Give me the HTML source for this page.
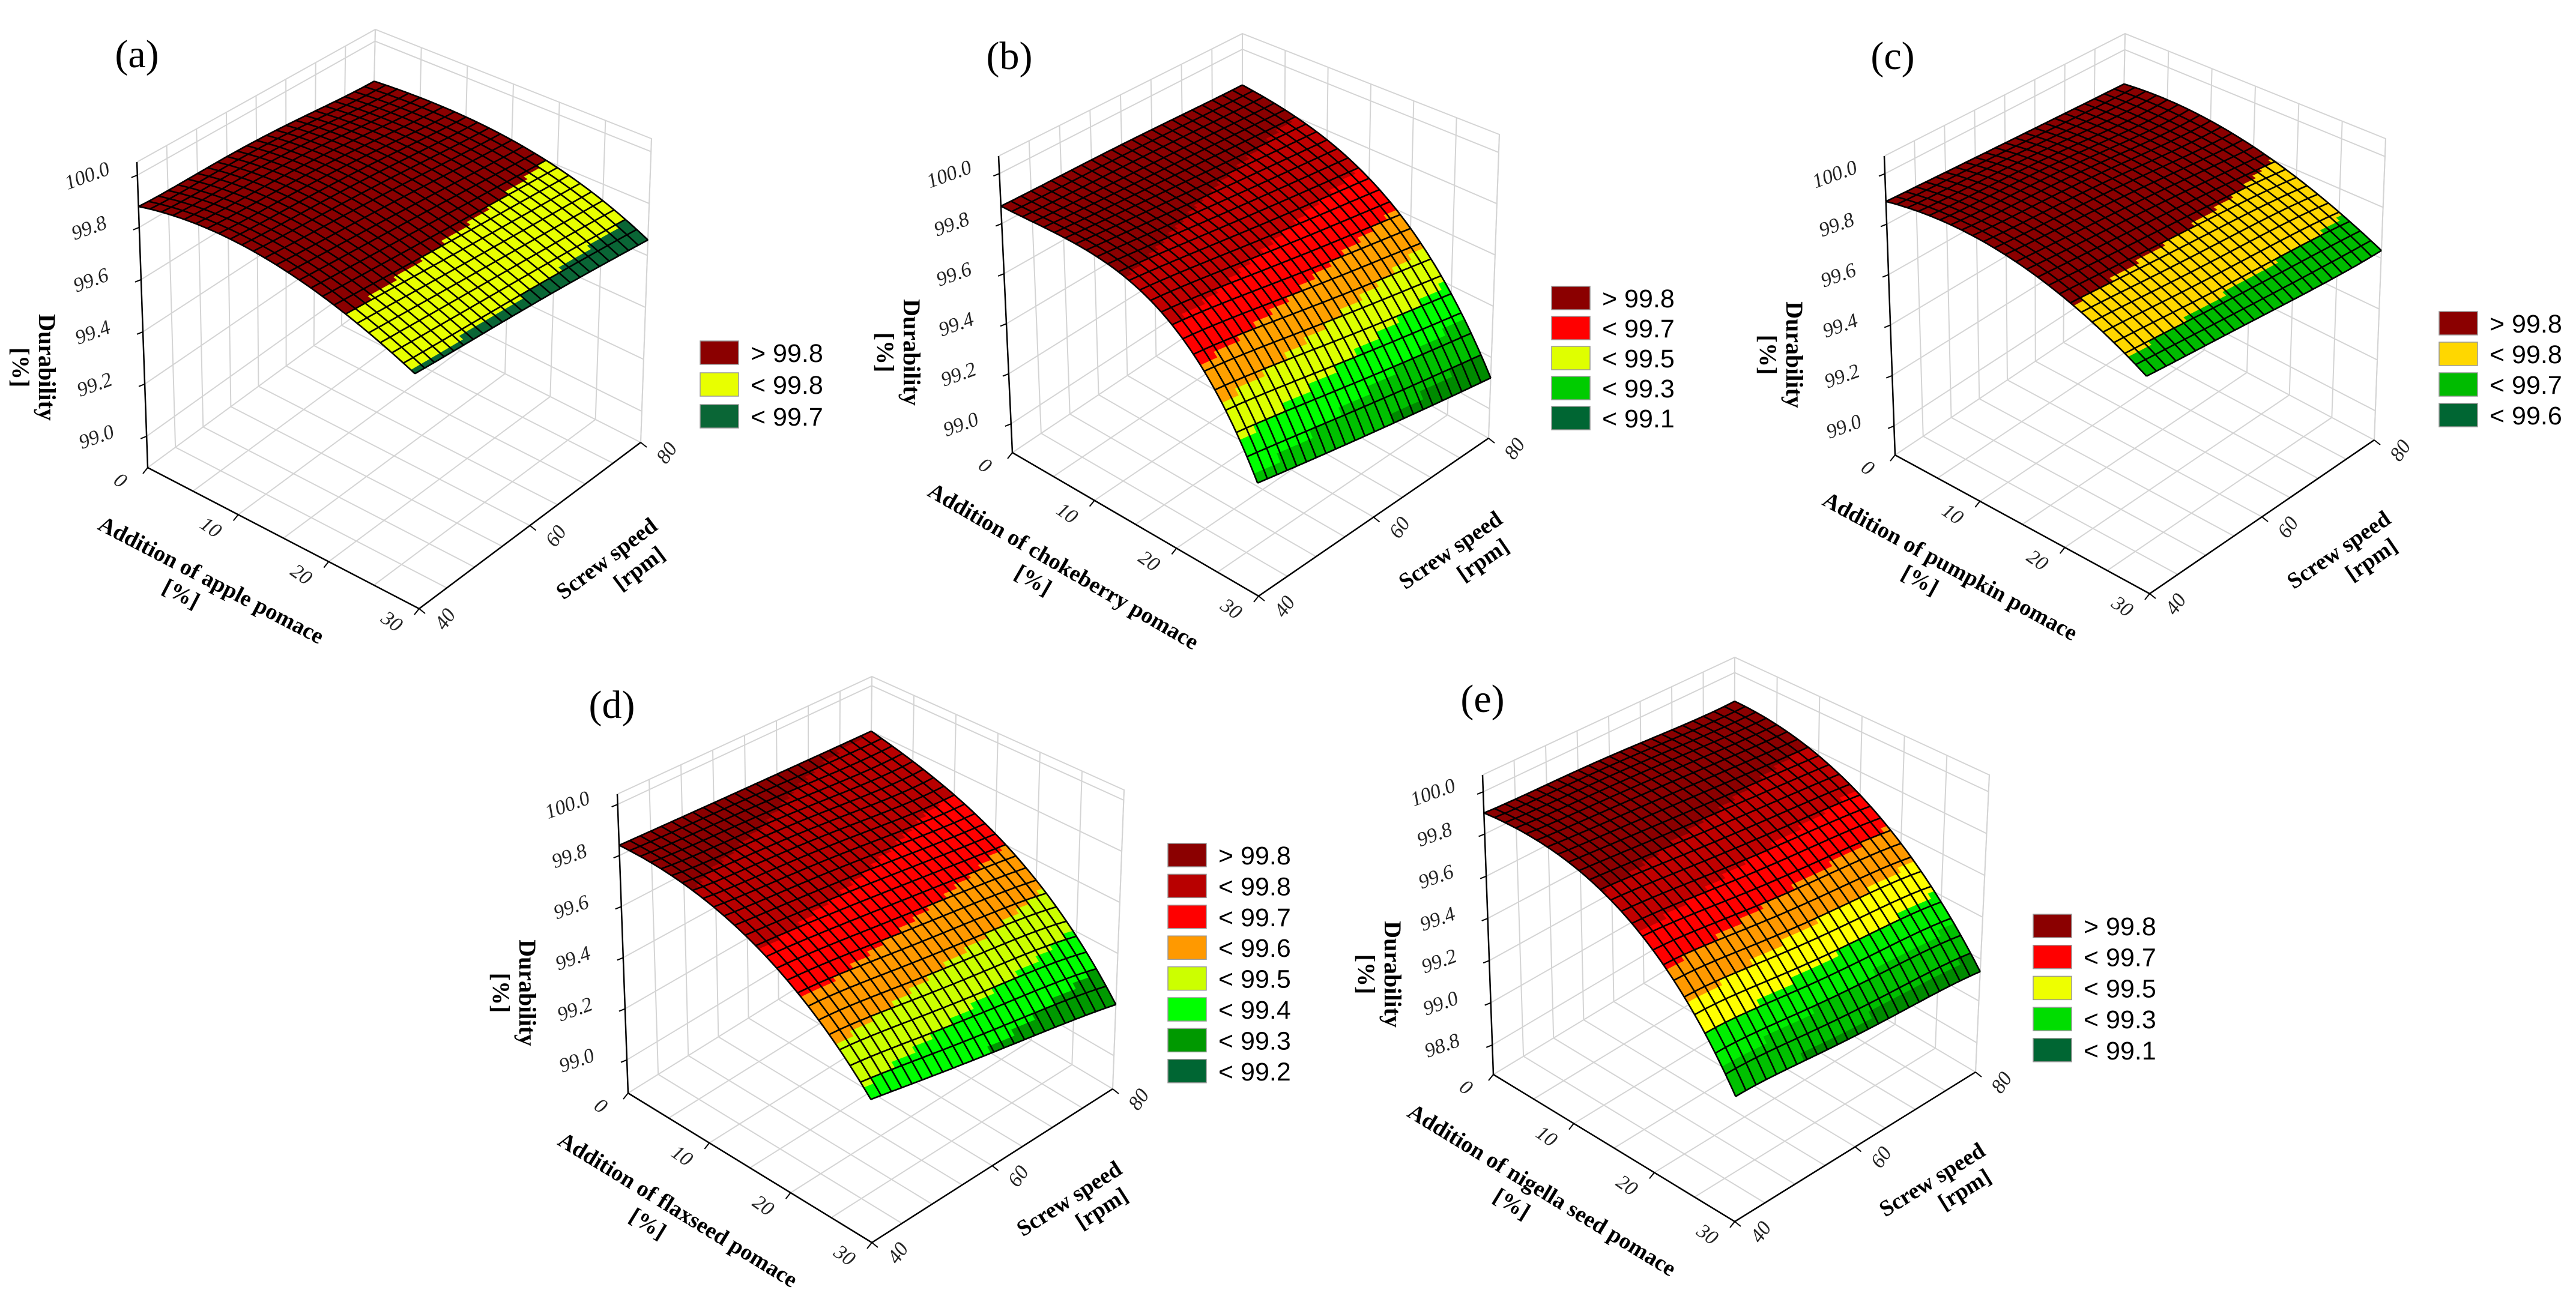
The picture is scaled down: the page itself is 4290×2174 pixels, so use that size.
<!DOCTYPE html>
<html>
<head>
<meta charset="utf-8">
<style>
html,body{margin:0;padding:0;background:#fff;}
svg{display:block;}
</style>
</head>
<body>
<svg id="fig" xmlns="http://www.w3.org/2000/svg" width="4290" height="2174" viewBox="0 0 4290 2174">
<rect x="0" y="0" width="4290" height="2174" fill="#ffffff"/>
</svg>
<script>
// ---- data ----
const addLevels = [0, 10, 20, 30];
const speedLevels = [40, 50, 60, 70, 80];
const addTickLabels = ["0", "10", "20", "30"];
const speedTickLabels = ["40", "60", "80"];
const zTicksStd = ["99.0", "99.2", "99.4", "99.6", "99.8", "100.0"];
const zTicksE = ["98.8", "99.0", "99.2", "99.4", "99.6", "99.8", "100.0"];

const durabilityA = [
  [99.88, 99.875, 99.87, 99.85, 99.83],
  [99.90, 99.89, 99.88, 99.86, 99.84],
  [99.83, 99.82, 99.81, 99.80, 99.79],
  [99.695, 99.69, 99.685, 99.675, 99.66]
];
const durabilityB = [
  [99.87, 99.865, 99.86, 99.85, 99.84],
  [99.84, 99.82, 99.80, 99.78, 99.76],
  [99.70, 99.67, 99.63, 99.59, 99.55],
  [99.28, 99.24, 99.20, 99.16, 99.12]
];
const durabilityC = [
  [99.89, 99.88, 99.87, 99.86, 99.85],
  [99.90, 99.89, 99.88, 99.86, 99.85],
  [99.82, 99.81, 99.80, 99.79, 99.77],
  [99.66, 99.65, 99.64, 99.63, 99.63]
];
const durabilityD = [
  [99.84, 99.83, 99.82, 99.81, 99.80],
  [99.79, 99.77, 99.75, 99.72, 99.70],
  [99.64, 99.62, 99.59, 99.56, 99.52],
  [99.37, 99.33, 99.29, 99.25, 99.20]
];
const durabilityE = [
  [99.90, 99.89, 99.88, 99.86, 99.85],
  [99.86, 99.84, 99.82, 99.80, 99.78],
  [99.65, 99.63, 99.60, 99.58, 99.55],
  [99.20, 99.19, 99.17, 99.16, 99.14]
];

const legendA = ["> 99.8", "< 99.8", "< 99.7"];
const legendB = ["> 99.8", "< 99.7", "< 99.5", "< 99.3", "< 99.1"];
const legendC = ["> 99.8", "< 99.8", "< 99.7", "< 99.6"];
const legendD = ["> 99.8", "< 99.8", "< 99.7", "< 99.6", "< 99.5", "< 99.4", "< 99.3", "< 99.2"];
const legendE = ["> 99.8", "< 99.7", "< 99.5", "< 99.3", "< 99.1"];

const bandThrA = [99.8, 99.7];
const bandThrB = [99.8, 99.7, 99.6, 99.5, 99.4, 99.3, 99.2, 99.1];
const bandThrC = [99.8, 99.7, 99.6];
const bandThrD = [99.8, 99.7, 99.6, 99.5, 99.4, 99.3, 99.2];
const bandThrE = [99.8, 99.7, 99.6, 99.5, 99.4, 99.3, 99.2, 99.1];

// ---- styles / geometry (not data) ----
const colA = ["#8b0000", "#e8ff00", "#0a6636"];
const colB = ["#8b0000", "#c00000", "#ff0000", "#ffa000", "#ddff00", "#00ff00", "#00c000", "#008a00", "#006633"];
const colC = ["#8b0000", "#ffd700", "#00bb00", "#006633"];
const colD = ["#8b0000", "#b80000", "#ff0000", "#ff9900", "#ccff00", "#00ff00", "#009900", "#006633"];
const colE = ["#8b0000", "#c00000", "#ff0000", "#ff9900", "#ffff00", "#00ee00", "#00c000", "#008a00", "#006633"];
const legColA = ["#8b0000", "#e8ff00", "#0a6636"];
const legColB = ["#8b0000", "#ff0000", "#dfff00", "#00cc00", "#006633"];
const legColC = ["#8b0000", "#ffd700", "#00bb00", "#006633"];
const legColD = ["#8b0000", "#b80000", "#ff0000", "#ff9900", "#ccff00", "#00ff00", "#009900", "#006633"];
const legColE = ["#8b0000", "#ff0000", "#eeff00", "#00dd00", "#006633"];

const panels = [
  {id:"a", letter:"(a)", title:[228,88], Lt:[228,270], Lf:[246,779], Ff:[698,1014], Rf:[1067,737], Rt:[1085,231], Bt:[625,49], zmin:98.88, zmax:100.05, zt:zTicksStd, data:durabilityA, thr:bandThrA, cols:colA, leg:legendA, legCols:legColA, legPos:[1166,568,53], xname:"Addition of apple pomace"},
  {id:"b", letter:"(b)", title:[1681,91], Lt:[1663,260], Lf:[1686,754], Ff:[2096,993], Rf:[2479,730], Rt:[2497,224], Bt:[2069,56], zmin:98.885, zmax:100.07, zt:zTicksStd, data:durabilityB, thr:bandThrB, cols:colB, leg:legendB, legCols:legColB, legPos:[2584,477,50], xname:"Addition of chokeberry pomace"},
  {id:"c", letter:"(c)", title:[3152,91], Lt:[3138,260], Lf:[3156,758], Ff:[3580,989], Rf:[3954,733], Rt:[3973,231], Bt:[3539,56], zmin:98.885, zmax:100.07, zt:zTicksStd, data:durabilityC, thr:bandThrC, cols:colC, leg:legendC, legCols:legColC, legPos:[4062,519,51], xname:"Addition of pumpkin pomace"},
  {id:"d", letter:"(d)", title:[1019,1172], Lt:[1028,1323], Lf:[1046,1821], Ff:[1452,2070], Rf:[1853,1814], Rt:[1872,1316], Bt:[1452,1127], zmin:98.87, zmax:100.04, zt:zTicksStd, data:durabilityD, thr:bandThrD, cols:colD, leg:legendD, legCols:legColD, legPos:[1945,1405,51.4], xname:"Addition of flaxseed pomace"},
  {id:"e", letter:"(e)", title:[2469,1162], Lt:[2469,1291], Lf:[2487,1790], Ff:[2889,2035], Rf:[3290,1786], Rt:[3313,1291], Bt:[2889,1095], zmin:98.66, zmax:100.08, zt:zTicksE, data:durabilityE, thr:bandThrE, cols:colE, leg:legendE, legCols:legColE, legPos:[3386,1523,51.7], xname:"Addition of nigella seed pomace"}
];

const NS = "http://www.w3.org/2000/svg";
const svg = document.getElementById("fig");
function mk(tag, attrs, parent) {
  const el = document.createElementNS(NS, tag);
  for (const k in attrs) el.setAttribute(k, attrs[k]);
  (parent || svg).appendChild(el);
  return el;
}
function lerp(a, b, t) { return [a[0] + (b[0] - a[0]) * t, a[1] + (b[1] - a[1]) * t]; }
function bil(L, F, R, B, u, v) {
  return [
    L[0]*(1-u)*(1-v) + F[0]*u*(1-v) + R[0]*u*v + B[0]*(1-u)*v,
    L[1]*(1-u)*(1-v) + F[1]*u*(1-v) + R[1]*u*v + B[1]*(1-u)*v
  ];
}
function lagrange(xs, ys, x) {
  let s = 0;
  for (let i = 0; i < xs.length; i++) {
    let p = ys[i];
    for (let j = 0; j < xs.length; j++) if (j !== i) p *= (x - xs[j]) / (xs[i] - xs[j]);
    s += p;
  }
  return s;
}
function evalZ(grid, add, speed) {
  const rows = grid.map(r => lagrange(speedLevels, r, speed));
  return lagrange(addLevels, rows, add);
}
function bandColor(p, z) {
  for (let k = 0; k < p.thr.length; k++) if (z >= p.thr[k]) return p.cols[k];
  return p.cols[p.thr.length];
}

panels.forEach(p => {
  const g = mk("g", {});
  
  
  const Ft = [p.Lt[0] + p.Rt[0] - p.Bt[0], p.Lt[1] + p.Rt[1] - p.Bt[1]];
  const Bf = [p.Lf[0] + p.Rf[0] - p.Ff[0], p.Lf[1] + p.Rf[1] - p.Ff[1] + 6];
  const addMin = addLevels[0], addMax = addLevels[addLevels.length - 1];
  const spMin = speedLevels[0], spMax = speedLevels[speedLevels.length - 1];
  const ux = a => (a - addMin) / (addMax - addMin);
  const vy = s => (s - spMin) / (spMax - spMin);
  const wz = z => (z - p.zmin) / (p.zmax - p.zmin);
  function P(u, v, w) {
    const f = bil(p.Lf, p.Ff, p.Rf, Bf, u, v);
    const t = bil(p.Lt, Ft, p.Rt, p.Bt, u, v);
    return lerp(f, t, w);
  }
  const pt = q => q[0].toFixed(1) + "," + q[1].toFixed(1);

  // grid lines
  const grid = mk("g", {stroke: "#d4d4d4", "stroke-width": 2, fill: "none"}, g);
  
  
  for (let a = addMin; a <= addMax + 0.001; a += 5) {
    const u = ux(a);
    mk("line", {x1: P(u,0,0)[0], y1: P(u,0,0)[1], x2: P(u,1,0)[0], y2: P(u,1,0)[1]}, grid);
    mk("line", {x1: P(u,1,0)[0], y1: P(u,1,0)[1], x2: P(u,1,1)[0], y2: P(u,1,1)[1]}, grid);
  }
  for (let s = spMin; s <= spMax + 0.001; s += 5) {
    const v = vy(s);
    mk("line", {x1: P(0,v,0)[0], y1: P(0,v,0)[1], x2: P(1,v,0)[0], y2: P(1,v,0)[1]}, grid);
    mk("line", {x1: P(0,v,0)[0], y1: P(0,v,0)[1], x2: P(0,v,1)[0], y2: P(0,v,1)[1]}, grid);
  }
  p.zt.forEach(lbl => {
    const w = wz(parseFloat(lbl));
    mk("polyline", {points: pt(P(0,0,w)) + " " + pt(P(0,1,w)) + " " + pt(P(1,1,w))}, grid);
  });
  mk("polyline", {points: pt(P(0,0,1)) + " " + pt(P(0,1,1)) + " " + pt(P(1,1,1)) + " " + pt(P(1,1,0))}, grid);

  // axes
  const ax = mk("g", {stroke: "#000", "stroke-width": 2.5, fill: "none"}, g);
  
  
  mk("polyline", {points: pt(P(0,0,1)) + " " + pt(P(0,0,0)) + " " + pt(P(1,0,0)) + " " + pt(P(1,1,0))}, ax);

  // ticks
  const tk = mk("g", {"font-family": "Liberation Serif, serif", "font-style": "italic", "font-size": 34, fill: "#222"}, g);
  
  
  p.zt.forEach(lbl => {
    const q = P(0,0,wz(parseFloat(lbl)));
    mk("line", {x1: q[0], y1: q[1], x2: q[0] - 10, y2: q[1] + 4, stroke: "#000", "stroke-width": 2}, tk);
    const t = mk("text", {x: q[0] - 84, y: q[1] + 12, "text-anchor": "middle", transform: "rotate(-20 " + (q[0]-84) + " " + q[1] + ")"}, tk);
    t.textContent = lbl;
    
    
  });
  addTickLabels.forEach(lbl => {
    const q = P(ux(parseFloat(lbl)), 0, 0);
    mk("line", {x1: q[0], y1: q[1], x2: q[0] - 8, y2: q[1] + 10, stroke: "#000", "stroke-width": 2}, tk);
    const t = mk("text", {x: q[0] - 46, y: q[1] + 32, "text-anchor": "middle", transform: "rotate(35 " + (q[0]-46) + " " + (q[1]+22) + ")"}, tk);
    t.textContent = lbl;
    
    
  });
  speedTickLabels.forEach(lbl => {
    const q = P(1, vy(parseFloat(lbl)), 0);
    mk("line", {x1: q[0], y1: q[1], x2: q[0] + 10, y2: q[1] + 8, stroke: "#000", "stroke-width": 2}, tk);
    const t = mk("text", {x: q[0] + 44, y: q[1] + 28, "text-anchor": "middle", transform: "rotate(-55 " + (q[0]+44) + " " + (q[1]+18) + ")"}, tk);
    t.textContent = lbl;
    
    
  });

  // surface: fine colour fill + mesh lines
  const N = 24, SUB = 3, M = N * SUB;
  const Z = [];
  for (let i = 0; i <= M; i++) {
    Z.push([]);
    for (let j = 0; j <= M; j++) {
      const a = addMin + (addMax - addMin) * i / M;
      const s = spMin + (spMax - spMin) * j / M;
      Z[i].push(evalZ(p.data, a, s));
    }
  }
  const Q = (i, j) => P(i / M, j / M, wz(Z[i][j]));
  const surf = mk("g", {"stroke-width": 1.2, "stroke-linejoin": "round"}, g);
  
  
  const cells = [];
  for (let i = 0; i < M; i++) for (let j = 0; j < M; j++) cells.push([i, j, i + (M - 1 - j)]);
  cells.sort((x, y) => x[2] - y[2]);
  cells.forEach(c => {
    const i = c[0], j = c[1];
    const zAvg = (Z[i][j] + Z[i+1][j] + Z[i+1][j+1] + Z[i][j+1]) / 4;
    const col = bandColor(p, zAvg);
    const poly = mk("polygon", {points: pt(Q(i,j)) + " " + pt(Q(i+1,j)) + " " + pt(Q(i+1,j+1)) + " " + pt(Q(i,j+1)), fill: col, stroke: col}, surf);
    
    
  });
  const mesh = mk("g", {stroke: "#000", "stroke-width": 2.6, fill: "none", "stroke-linejoin": "round"}, g);
  
  
  for (let k = 0; k <= N; k++) {
    let s1 = [], s2 = [];
    for (let m = 0; m <= M; m++) { s1.push(pt(Q(k * SUB, m))); s2.push(pt(Q(m, k * SUB))); }
    mk("polyline", {points: s1.join(" ")}, mesh);
    mk("polyline", {points: s2.join(" ")}, mesh);
  }

  // panel letter
  const tl = mk("text", {x: p.title[0], y: p.title[1] + 24, "text-anchor": "middle", "font-family": "Liberation Serif, serif", "font-size": 66, fill: "#000"}, g);
  tl.textContent = p.letter;
  
  

  // axis titles
  const dx = p.Lf[0] - 172, dy = p.Lf[1] - 167;
  const yt = mk("text", {x: dx, y: dy, "text-anchor": "middle", "dominant-baseline": "middle", "font-family": "Liberation Serif, serif", "font-weight": "bold", "font-size": 40, transform: "rotate(90 " + dx + " " + dy + ")"}, g);
  yt.textContent = "Durability";
  
  
  const yu = mk("text", {x: dx - 44, y: dy, "text-anchor": "middle", "dominant-baseline": "middle", "font-family": "Liberation Serif, serif", "font-weight": "bold", "font-size": 40, transform: "rotate(90 " + (dx-44) + " " + dy + ")"}, g);
  yu.textContent = "[%]";
  
  

  const angL = Math.atan2(p.Ff[1] - p.Lf[1], p.Ff[0] - p.Lf[0]) * 180 / Math.PI;
  const mL = [(p.Lf[0] + p.Ff[0]) / 2, (p.Lf[1] + p.Ff[1]) / 2];
  const ax1 = [mL[0] - 122, mL[1] + 73];
  const xt = mk("text", {x: ax1[0], y: ax1[1], "text-anchor": "middle", "dominant-baseline": "middle", "font-family": "Liberation Serif, serif", "font-weight": "bold", "font-size": 38, transform: "rotate(" + angL.toFixed(1) + " " + ax1[0] + " " + ax1[1] + ")"}, g);
  xt.textContent = p.xname;
  
  
  const ax1u = [mL[0] - 172, mL[1] + 96];
  const xu = mk("text", {x: ax1u[0], y: ax1u[1], "text-anchor": "middle", "dominant-baseline": "middle", "font-family": "Liberation Serif, serif", "font-weight": "bold", "font-size": 38, transform: "rotate(" + angL.toFixed(1) + " " + ax1u[0] + " " + ax1u[1] + ")"}, g);
  xu.textContent = "[%]";
  
  

  const angR = Math.atan2(p.Rf[1] - p.Ff[1], p.Rf[0] - p.Ff[0]) * 180 / Math.PI;
  const mR = [(p.Ff[0] + p.Rf[0]) / 2, (p.Ff[1] + p.Rf[1]) / 2];
  const ax2 = [mR[0] + 130, mR[1] + 58];
  const st = mk("text", {x: ax2[0], y: ax2[1], "text-anchor": "middle", "dominant-baseline": "middle", "font-family": "Liberation Serif, serif", "font-weight": "bold", "font-size": 38, transform: "rotate(" + angR.toFixed(1) + " " + ax2[0] + " " + ax2[1] + ")"}, g);
  st.textContent = "Screw speed";
  
  
  const ax2u = [mR[0] + 184, mR[1] + 74];
  const su = mk("text", {x: ax2u[0], y: ax2u[1], "text-anchor": "middle", "dominant-baseline": "middle", "font-family": "Liberation Serif, serif", "font-weight": "bold", "font-size": 38, transform: "rotate(" + angR.toFixed(1) + " " + ax2u[0] + " " + ax2u[1] + ")"}, g);
  su.textContent = "[rpm]";
  
  

  // legend
  const lg = mk("g", {}, g);
  
  
  p.leg.forEach((lbl, k) => {
    const y = p.legPos[1] + k * p.legPos[2];
    const r = mk("rect", {x: p.legPos[0], y: y, width: 64, height: 39, fill: p.legCols[k], stroke: "#999", "stroke-width": 1.5}, lg);
    
    
    const t = mk("text", {x: p.legPos[0] + 84, y: y + 35, "font-family": "Liberation Sans, sans-serif", "font-size": 43, fill: "#000"}, lg);
    t.textContent = lbl;
    
    
  });
});
</script>
</body>
</html>
